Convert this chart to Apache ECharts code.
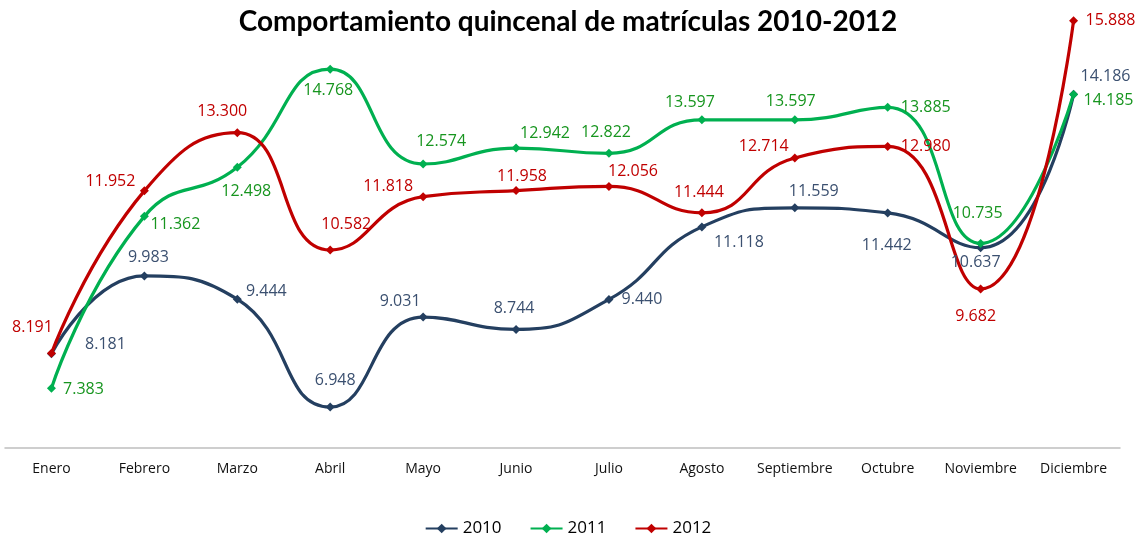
<!DOCTYPE html>
<html>
<head>
<meta charset="utf-8">
<script src="https://cdn.jsdelivr.net/npm/echarts@6/dist/echarts.min.js"></script>
<style>
  html, body { margin: 0; padding: 0; background: #fff; }
  #chart { width: 1136px; height: 536px; }
</style>
</head>
<body>
<div id="chart"></div>
<script>
const meses = ['Enero', 'Febrero', 'Marzo', 'Abril', 'Mayo', 'Junio', 'Julio', 'Agosto', 'Septiembre', 'Octubre', 'Noviembre', 'Diciembre']

const datos2010 = [8.181, 9.983, 9.444, 6.948, 9.031, 8.744, 9.440, 11.118, 11.559, 11.442, 10.637, 14.186]
const datos2011 = [7.383, 11.362, 12.498, 14.768, 12.574, 12.942, 12.822, 13.597, 13.597, 13.885, 10.735, 14.185]
const datos2012 = [8.191, 11.952, 13.300, 10.582, 11.818, 11.958, 12.056, 11.444, 12.714, 12.980, 9.682, 15.888]

// label shift from its point (label centre minus point), px
const off2010 = [[54, -9], [4, -18], [29, -8], [5, -27], [-23, -16], [-2, -21], [33, 0], [37, 16], [19, -16], [-1, 33], [-5, 15], [32, -18]]
const off2011 = [[32, 1], [31, 8], [9, 24], [-2, 21], [18, -23], [29, -15], [-3, -21], [-12, -17], [-4, -18], [38, 0], [-3, -30], [35, 6]]
const off2012 = [[-19, -26], [-34, -9], [-15, -21], [16, -26], [-35, -10], [6, -14], [24, -15], [-3, -20], [-31, -12], [38, 0], [-5, 27], [37, 0]]

const fmt = v => v.toFixed(3)

const buildData = (values, offsets) => values.map((v, i) => ({
  value: v,
  label: { offset: offsets[i] }
}))

const makeSeries = (name, values, offsets, lineColor, labelColor) => ({
  name: name,
  type: 'line',
  smooth: 0.5,
  symbol: 'diamond',
  symbolSize: 9,
  lineStyle: { width: 3.2, color: lineColor },
  itemStyle: { color: lineColor },
  label: {
    show: true,
    position: 'inside',
    color: labelColor,
    fontSize: 16,
    fontFamily: 'Open Sans',
    formatter: p => fmt(p.value)
  },
  data: buildData(values, offsets)
})

const chart = echarts.init(document.getElementById('chart'))
chart.setOption({
  animation: false,
  title: {
    text: 'Comportamiento quincenal de matrículas 2010-2012',
    left: 'center',
    top: 3,
    textStyle: { fontFamily: 'Lato', fontWeight: 'bold', fontSize: 28, color: '#000' }
  },
  legend: {
    top: 515,
    left: 'center',
    itemWidth: 32,
    itemHeight: 12,
    itemGap: 28,
    textStyle: { fontFamily: 'Open Sans', fontSize: 17, color: '#000' },
    data: ['2010', '2011', '2012']
  },
  grid: { left: 5, right: 16, top: 16, bottom: 88 },
  xAxis: {
    type: 'category',
    data: meses,
    axisLine: { lineStyle: { color: '#bfbfbf', width: 1.5 } },
    axisTick: { show: false },
    axisLabel: { interval: 0, color: '#111', fontSize: 14, fontFamily: 'Open Sans', margin: 14 }
  },
  yAxis: {
    type: 'value',
    min: 6,
    max: 16,
    show: false,
    splitLine: { show: false }
  },
  series: [
    makeSeries('2010', datos2010, off2010, '#243f60', '#3b5070'),
    makeSeries('2011', datos2011, off2011, '#00b050', '#17951f'),
    makeSeries('2012', datos2012, off2012, '#c00000', '#c00000')
  ]
})
</script>
</body>
</html>
